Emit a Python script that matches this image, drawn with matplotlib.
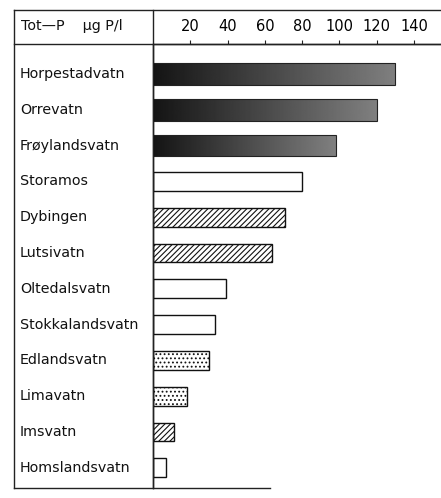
import numpy as np
import matplotlib
matplotlib.use("Agg")
import matplotlib.pyplot as plt
import matplotlib.transforms as mtransforms
from matplotlib.patches import Rectangle
from matplotlib.lines import Line2D

lakes = ["Horpestadvatn", "Orrevatn", "Frøylandsvatn", "Storamos", "Dybingen",
         "Lutsivatn", "Oltedalsvatn", "Stokkalandsvatn", "Edlandsvatn",
         "Limavatn", "Imsvatn", "Homslandsvatn"]
totp = [130, 120, 98, 80, 71, 64, 39, 33, 30, 18, 11, 7]
fill = ["dark", "dark", "dark", "open", "hatch", "hatch", "open", "open",
        "dots", "dots", "hatch", "open"]
ticks = [20, 40, 60, 80, 100, 120, 140]

W, H = 441, 498
fig = plt.figure(figsize=(W / 100, H / 100), dpi=100)
plt.rcParams['hatch.linewidth'] = 0.8

# bar area in pixels
x0, x1 = 153, 441
y_top, y_bot = 44, 488
row0, step = 74, 35.8
ax = fig.add_axes([x0 / W, 1 - y_bot / H, (x1 - x0) / W, (y_bot - y_top) / H])
ax.set_xlim(0, (x1 - x0) / 1.864)
ax.set_ylim((y_bot - row0) / step, -(row0 - y_top) / step)

grad = np.linspace(0.08, 0.5, 256).reshape(1, -1)
for i, (v, f) in enumerate(zip(totp, fill)):
    h = 0.6
    if f == "dark":
        r = Rectangle((0, i - h / 2), v, h, facecolor="none", edgecolor="#222", lw=0.8)
        ax.add_patch(r)
        im = ax.imshow(grad, cmap="gray", vmin=0, vmax=1, aspect="auto",
                       extent=(0, v, i + h / 2, i - h / 2), interpolation="bilinear")
        im.set_clip_path(r)
    elif f == "hatch":
        ax.barh(i, v, height=h * 0.88, color="white", edgecolor="#111", hatch="//////", lw=1.0)
    elif f == "dots":
        ax.barh(i, v, height=h * 0.88, color="white", edgecolor="#111", hatch="....", lw=1.0)
    else:
        ax.barh(i, v, height=h * 0.88, color="white", edgecolor="#111", lw=1.0)

ax.set_xlim(0, (x1 - x0) / 1.864)
ax.set_ylim((y_bot - row0) / step, -(row0 - y_top) / step)
ax.xaxis.tick_top()
ax.set_xticks(ticks)
ax.set_xticklabels([str(t) for t in ticks])
ax.tick_params(axis="x", direction="out", length=3, pad=4, labelsize=10.5, color="#222")
ax.set_yticks([])
for s in ["right", "bottom"]:
    ax.spines[s].set_visible(False)
ax.spines["left"].set_linewidth(1.0)
ax.spines["top"].set_linewidth(1.0)

# lake names in the left column
tr = mtransforms.blended_transform_factory(fig.transFigure, ax.transData)
for i, name in enumerate(lakes):
    ax.text(20 / W, i, name, transform=tr, ha="left", va="center", fontsize=10.3,
            color="#111", clip_on=False)

fig.text(21 / W, 1 - 26 / H, "Tot—P    µg P/l", ha="left", va="center", fontsize=10.3, color="#111")

# table frame
def hline(y, xa, xb, lw=1.0):
    fig.add_artist(Line2D([xa / W, xb / W], [1 - y / H, 1 - y / H], color="#222", lw=lw))

def vline(x, ya, yb, lw=1.0):
    fig.add_artist(Line2D([x / W, x / W], [1 - ya / H, 1 - yb / H], color="#222", lw=lw))

hline(10, 14, 441)
hline(y_top, 14, 441)
hline(y_bot, 14, 270)
vline(14, 10, y_bot)
vline(x0, 10, y_bot)

fig.savefig("out.png", dpi=100)
